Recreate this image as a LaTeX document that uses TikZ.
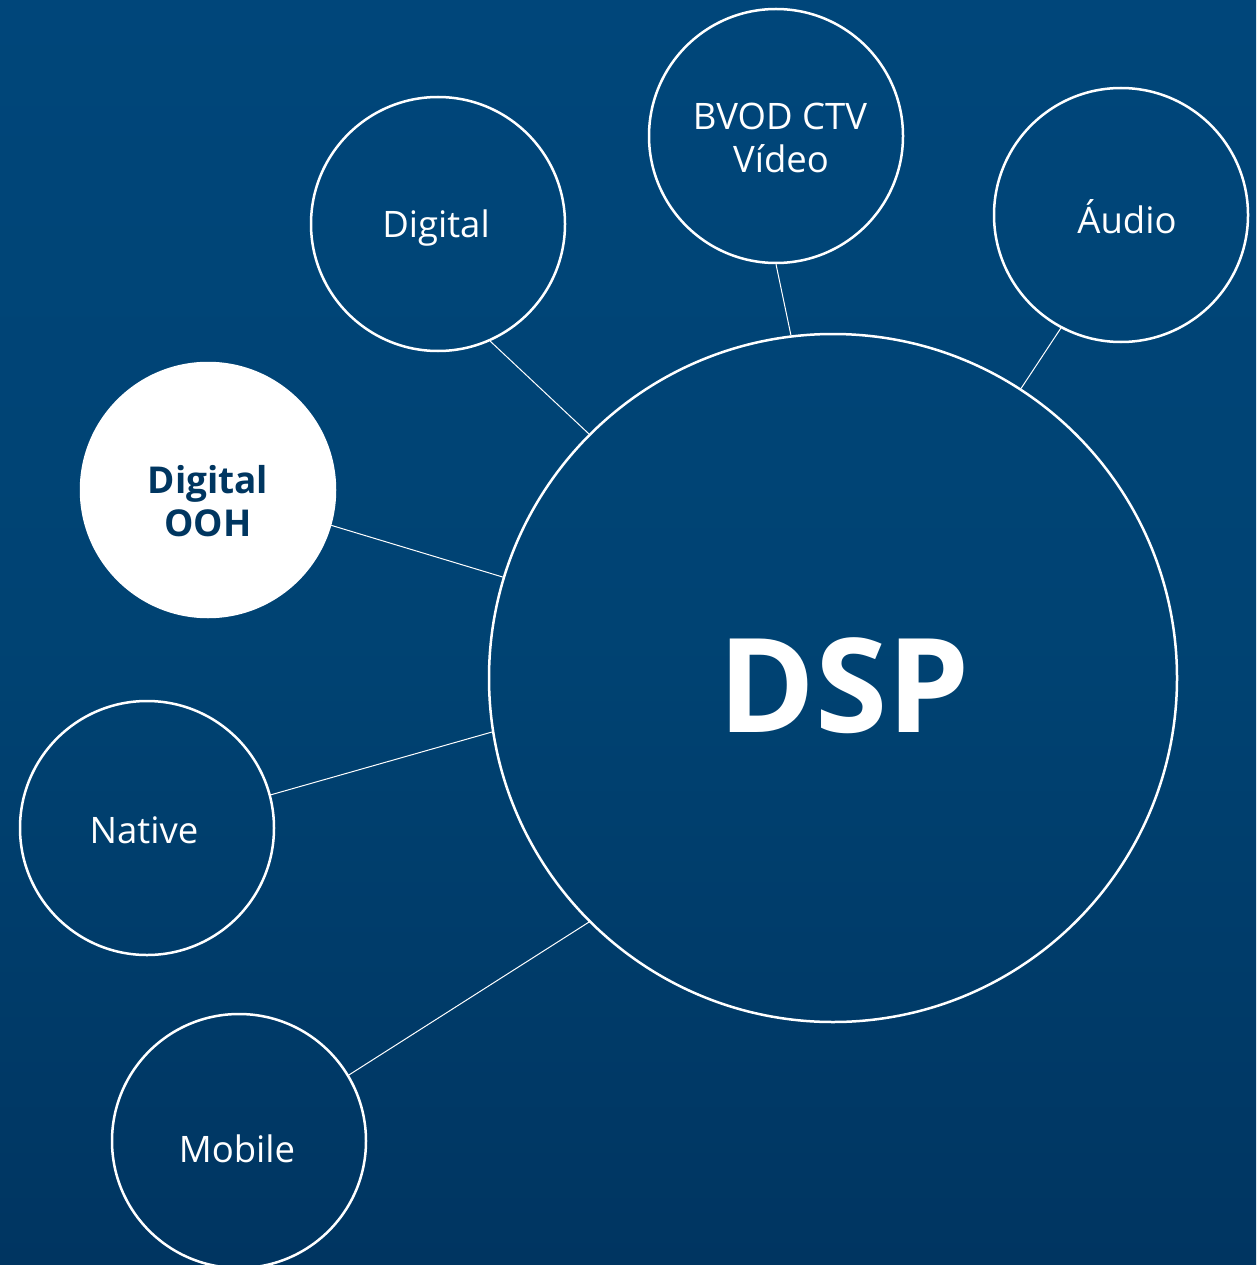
\documentclass[tikz,border=0pt]{standalone}
\usepackage{fontspec}
\setmainfont{Open Sans}
\definecolor{bgtop}{HTML}{00467A}
\definecolor{bgmid}{HTML}{004373}
\definecolor{bgbot}{HTML}{003561}
\definecolor{ink}{HTML}{003660}
\begin{document}
\begin{tikzpicture}[x=1pt,y=-1pt,
  bubble/.style={circle,draw=white,line width=2.5pt,minimum size=254pt,inner sep=0pt},
  hub/.style={circle,draw=white,line width=2.5pt,minimum size=688pt,inner sep=0pt},
  txt/.style={anchor=base,inner sep=0pt,text=white,font=\fontsize{36.5}{44}\selectfont},
  boldtxt/.style={anchor=base,inner sep=0pt,text=ink,font=\bfseries\fontsize{37}{44}\selectfont},
  link/.style={draw=white,line width=1pt}]
\shade[top color=bgtop,bottom color=bgbot,middle color=bgmid,shading angle=0] (0,0) rectangle (1256,1265);
\useasboundingbox (0,0) rectangle (1256,1265);
\node[hub] (dsp) at (833,678) {};
\node[text=white,font=\bfseries\fontsize{131}{140}\selectfont] (dsplabel) at (844,686) {DSP};
\node[bubble] (dig) at (438,224) {};
\node[bubble] (bvod) at (776,136) {};
\node[bubble] (aud) at (1121,215) {};
\node[bubble,fill=white] (ooh) at (208,490) {};
\node[bubble] (nat) at (147,828) {};
\node[bubble] (mob) at (239,1141) {};
\node[txt] (digt) at (436,238) {Digital};
\node[txt] (bvodta) at (780,130) {BVOD CTV};
\node[txt] (bvodtb) at (781,173) {Vídeo};
\node[txt] (audt) at (1127,234) {Áudio};
\node[boldtxt] (oohta) at (208,493) {Digital};
\node[boldtxt] (oohtb) at (208,536) {OOH};
\node[txt] (natt) at (144,843) {Native};
\node[txt] (mobt) at (237,1162) {Mobile};
\draw[link] (dig.-66) -- (dsp.135);
\draw[link] (bvod.-90) -- (dsp.97.6);
\draw[link] (aud.-118) -- (dsp.57.6);
\draw[link] (ooh.-16.6) -- (dsp.163.2);
\draw[link] (nat.15.8) -- (dsp.189.2);
\draw[link] (mob.31.5) -- (dsp.225);
\end{tikzpicture}
\end{document}
